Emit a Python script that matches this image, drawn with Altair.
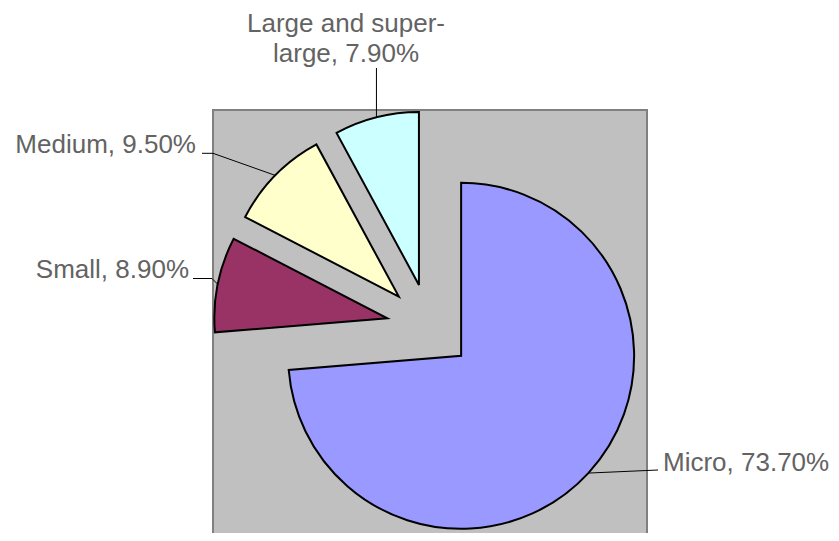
import altair as alt
import numpy as np
import pandas as pd

# ---- data ----
categories = ["Micro", "Small", "Medium", "Large and super-large"]
shares = [73.7, 8.9, 9.5, 7.9]
colors = ["#9999FF", "#993366", "#FFFFCC", "#CCFFFF"]
label_lines = [["Micro, 73.70%"], ["Small, 8.90%"], ["Medium, 9.50%"],
               ["Large and super-", "large, 7.90%"]]

# ---- layout (pixels, relative to the plot area) ----
W, H = 434, 426
CX, CY, R, EXPLODE = 216.5, 216.7, 173, 43
LINE_H = 30
# label anchor (x, first baseline y, align) and leader elbow/end points
label_pos = [(450, 360.7, "left"), (-24, 168.3, "right"), (-17, 43.3, "right"), (133, -78.3, "center")]
leader_pts = [[(445, 360)], [(-1, 168.5), (-20, 168.5)], [(0, 43.3), (-11, 43.3)], [None]]

total = float(sum(shares))
sh = np.array(shares)
f1 = np.cumsum(sh) / total
f0 = f1 - sh / total
mid = (f0 + f1) * np.pi
px = CX + EXPLODE * np.sin(mid)
py = CY - EXPLODE * np.cos(mid)

slices = pd.DataFrame({"category": categories, "share": shares,
                       "f0": f0, "f1": f1, "px": px, "py": py})

# leader lines: start at the middle of each exploded slice's arc
rows = []
for i, cat in enumerate(categories):
    ax = CX + (EXPLODE + R) * np.sin(mid[i])
    ay = CY - (EXPLODE + R) * np.cos(mid[i])
    rows.append({"id": cat, "seq": 0, "x": ax, "y": ay})
    for k, p in enumerate(leader_pts[i]):
        if p is None:  # vertical leader up to the label
            p = (ax, label_pos[i][1] + LINE_H * (len(label_lines[i]) - 1) + 6.3)
        rows.append({"id": cat, "seq": k + 1, "x": p[0], "y": p[1]})
leaders = pd.DataFrame(rows)

trows = []
for i, lines in enumerate(label_lines):
    x0, y0, al = label_pos[i]
    for j, t in enumerate(lines):
        trows.append({"text": t, "x": x0, "y": y0 + j * LINE_H, "align": al})
texts = pd.DataFrame(trows)

arcs = alt.Chart(slices).mark_arc(
    outerRadius=R, stroke="black", strokeWidth=2, strokeJoin="miter"
).encode(
    theta=alt.Theta("f0:Q", stack=False,
                    scale=alt.Scale(domain=[0, 1], range=[0, 2 * np.pi])),
    theta2="f1:Q",
    x=alt.X("px:Q", scale=None),
    y=alt.Y("py:Q", scale=None),
    color=alt.Color("category:N", scale=alt.Scale(domain=categories, range=colors), legend=None),
)

lines = alt.Chart(leaders).mark_line(color="black", strokeWidth=1).encode(
    x=alt.X("x:Q", scale=None),
    y=alt.Y("y:Q", scale=None),
    detail="id:N",
    order="seq:Q",
)

text_layers = []
for al in ["left", "right", "center"]:
    text_layers.append(
        alt.Chart(texts).transform_filter(alt.datum.align == al).mark_text(
            align=al, baseline="alphabetic", font="Liberation Sans",
            fontSize=26, color="#636363"
        ).encode(
            x=alt.X("x:Q", scale=None),
            y=alt.Y("y:Q", scale=None),
            text="text:N",
        )
    )

chart = alt.layer(arcs, lines, *text_layers).properties(
    width=W, height=H,
    autosize=alt.AutoSizeParams(type="none"),
    padding={"left": 205, "top": 102, "right": 184, "bottom": -3},
    background="white",
).configure_view(fill="#C0C0C0", stroke="#808080", strokeWidth=2)

chart.save("out.html", embed_options={"renderer": "svg", "actions": False})
